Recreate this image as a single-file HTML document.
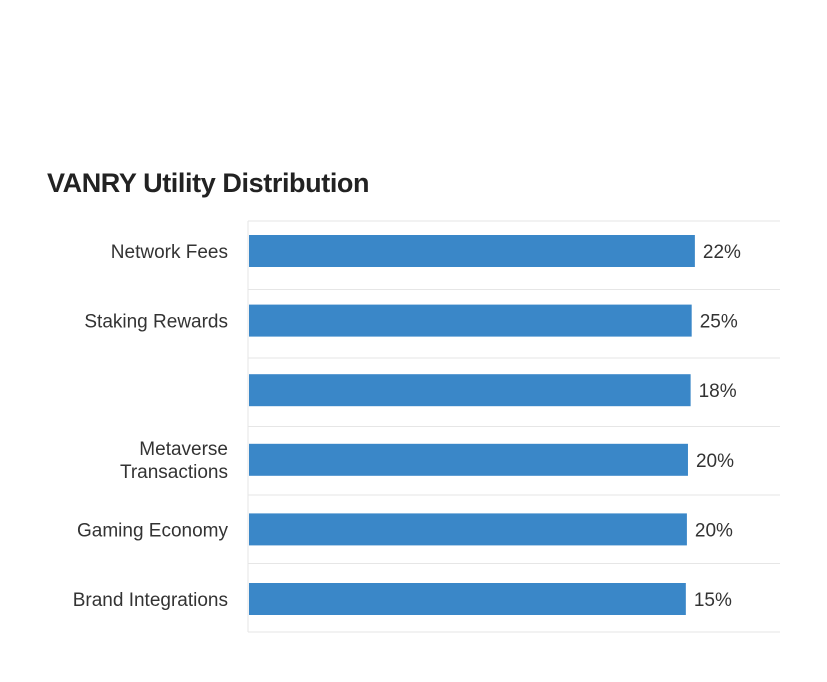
<!DOCTYPE html>
<html><head><meta charset="utf-8"><style>
html,body{margin:0;padding:0;background:#fff;}
body{width:827px;height:682px;position:relative;overflow:hidden;font-family:"Liberation Sans",sans-serif;}
#title{position:absolute;left:47px;top:168px;font-size:27px;font-weight:bold;color:#222;letter-spacing:-0.4px;}
</style></head><body>
<div id="title">VANRY Utility Distribution</div>
<svg id="chart" width="827" height="682" style="position:absolute;left:0;top:0"></svg>
<script>
const categories = [["Network Fees"],["Staking Rewards"],[""],["Metaverse","Transactions"],["Gaming Economy"],["Brand Integrations"]];
const values = [22,25,18,20,20,15];
const barExtent = [84.0,83.4,83.2,82.7,82.5,82.3];
const svg=document.getElementById('chart');
const NS='http://www.w3.org/2000/svg';
const x0=248,x1=780,gridTop=221,gridStep=68.5,c0=251,rowH=69.6,barH=32;
const xs=v=>x0+(x1-x0)*v/100;
const yc=i=>c0+i*rowH;
const yg=i=>gridTop+i*gridStep;
function mk(t,a){const e=document.createElementNS(NS,t);for(const k in a)e.setAttribute(k,a[k]);svg.appendChild(e);return e;}
for(let i=0;i<=categories.length;i++){
  const g=mk('line',{x1:x0,x2:x1,y1:yg(i),y2:yg(i),stroke:'#e6e6e6','stroke-width':1});
  
  
}
const ax=mk('line',{x1:x0,x2:x0,y1:gridTop,y2:yg(categories.length),stroke:'#e6e6e6','stroke-width':1});


categories.forEach((c,i)=>{
  const cy=yc(i);
  const r=mk('rect',{x:x0+1,y:cy-barH/2,width:xs(barExtent[i])-x0-1,height:barH,fill:'#3a87c8'});
  
  
  const t=mk('text',{x:xs(barExtent[i])+8,y:cy+7,'font-size':19,fill:'#333','font-family':'Liberation Sans, sans-serif'});
  t.textContent=values[i]+'%';
  
  
  const l=mk('text',{x:228,y:cy+7-(c.length-1)*12,'font-size':19,fill:'#333','text-anchor':'end','font-family':'Liberation Sans, sans-serif'});
  c.forEach((line,k)=>{const s=document.createElementNS(NS,'tspan');s.setAttribute('x',228);s.setAttribute('dy',k?23:0);s.textContent=line;l.appendChild(s);});
  
  
});
</script>
</body></html>
